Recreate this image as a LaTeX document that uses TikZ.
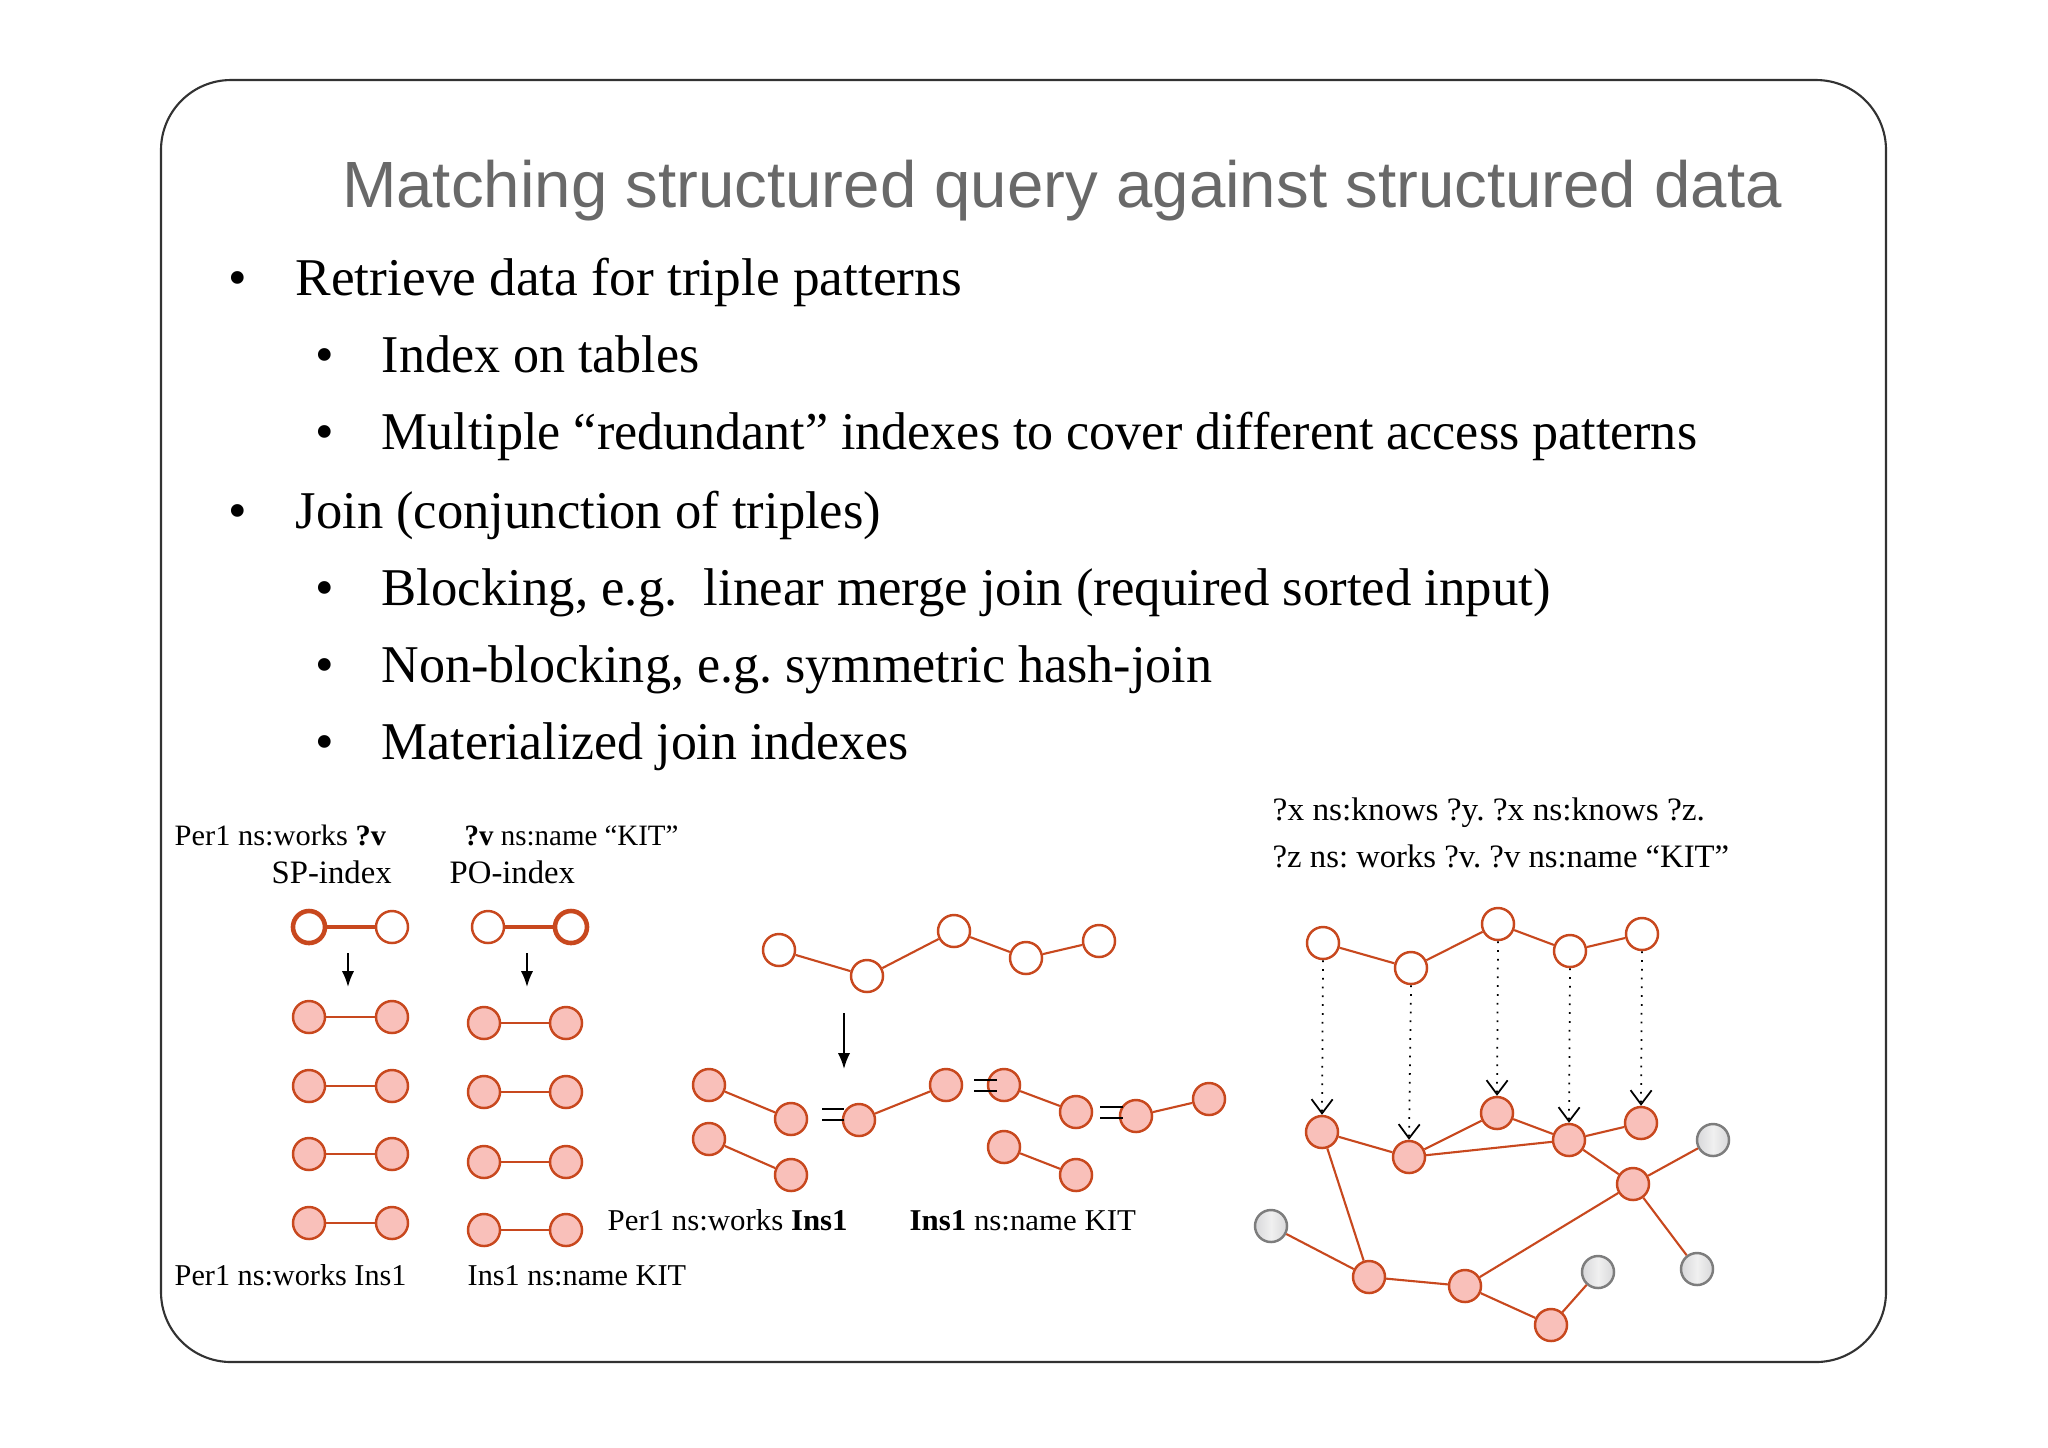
\documentclass[tikz,border=0pt]{standalone}
\usepackage{fontspec}
\setmainfont{Liberation Serif}
\newfontfamily\titlefont{Liberation Sans}
\usetikzlibrary{arrows.meta}
\definecolor{edgeor}{RGB}{200,72,30}
\definecolor{nodefill}{RGB}{249,192,186}
\definecolor{grayfill}{RGB}{216,216,218}
\definecolor{graylight}{RGB}{240,240,240}
\definecolor{grayedge}{RGB}{125,125,125}
\definecolor{titlegray}{RGB}{105,105,105}
\definecolor{framecol}{RGB}{50,50,50}
\frenchspacing
\newcommand{\xsc}[2]{\scalebox{#1}[1]{#2}}
\begin{document}
\begin{tikzpicture}[x=0.01cm,y=-0.01cm,
  vnode/.style={circle,draw=edgeor,line width=0.7pt,inner sep=0pt,minimum size=0.32cm},
  qnode/.style={vnode,fill=white},
  dnode/.style={vnode,fill=nodefill},
  gnode/.style={circle,draw=grayedge,left color=grayfill,right color=grayfill,middle color=graylight,line width=0.7pt,inner sep=0pt,minimum size=0.32cm},
  thicknode/.style={vnode,fill=white,line width=1.3pt},
  edge/.style={draw=edgeor,line width=0.6pt},
  thickedge/.style={draw=edgeor,line width=1.3pt},
  bodytext/.style={anchor=base west,inner sep=0pt,font=\fontsize{15.1}{18}\selectfont},
  bul/.style={anchor=base,inner sep=0pt,font=\fontsize{15.1}{18}\selectfont},
  smalltext/.style={anchor=base west,inner sep=0pt,font=\fontsize{9.3}{11}\selectfont},
  labeltext/.style={anchor=base west,inner sep=0pt,font=\fontsize{8.6}{10}\selectfont},
  tinytext/.style={anchor=base west,inner sep=0pt,font=\fontsize{8.4}{10}\selectfont},
  solidarrow/.style={-{Latex[length=4.5pt,width=3.5pt]},line width=0.6pt},
  matcharrow/.style={-{Straight Barb[length=4pt,width=6pt]},dotted,line width=0.5pt},
  eqline/.style={line width=0.6pt}
]
\useasboundingbox (0,0) rectangle (2048,1447);
\fill[white] (0,0) rectangle (2048,1447);
% frame
\draw[framecol,line width=0.6pt,rounded corners=0.7cm] (161,80) rectangle (1886,1362);

% title
\node[anchor=base,inner sep=0pt,text=titlegray,font=\titlefont\fontsize{18.6}{22}\selectfont] (title) at (1062,207) {Matching structured query against structured data};

% bullets
\node[bul] (b1) at (238,295) {•};
\node[bodytext] (t1) at (295,295) {\xsc{1.004}{Retrieve data for triple patterns}};
\node[bul] (b2) at (325,372) {•};
\node[bodytext] (t2) at (381,372) {\xsc{0.98}{Index on tables}};
\node[bul] (b3) at (325,449) {•};
\node[bodytext] (t3) at (381,449) {\xsc{0.98}{Multiple “redundant” indexes to cover different access patterns}};
\node[bul] (b4) at (238,528) {•};
\node[bodytext] (t4) at (295,528) {\xsc{0.99}{Join (conjunction of triples)}};
\node[bul] (b5) at (325,605) {•};
\node[bodytext] (t5) at (381,605) {\xsc{0.993}{Blocking, e.g.\ \ linear merge join (required sorted input)}};
\node[bul] (b6) at (325,682) {•};
\node[bodytext] (t6) at (381,682) {\xsc{0.981}{Non-blocking, e.g. symmetric hash-join}};
\node[bul] (b7) at (325,759) {•};
\node[bodytext] (t7) at (381,759) {\xsc{0.976}{Materialized join indexes}};

% left part labels
\node[tinytext] (l1) at (174,845) {\xsc{1.03}{Per1 ns:works \textbf{?v}}};
\node[tinytext] (l2) at (464,845) {\xsc{0.98}{\textbf{?v} ns:name “KIT”}};
\node[smalltext] (l3) at (271,883) {SP-index};
\node[smalltext] (l4) at (449,883) {PO-index};
\node[labeltext] (l5) at (174,1285) {Per1 ns:works Ins1};
\node[labeltext] (l6) at (467,1285) {Ins1 ns:name KIT};

% SP-index pattern
\node[thicknode] (spa) at (309,927) {};
\node[qnode] (spb) at (392,927) {};
\draw[thickedge] (spa) -- (spb);
\coordinate (spar1) at (348,953);
\coordinate (spar2) at (348,987);
\draw[solidarrow] (spar1) -- (spar2);
\foreach \i/\y in {1/1017,2/1086,3/1154,4/1223}{
  \node[dnode] (spl\i) at (309,\y) {};
  \node[dnode] (spr\i) at (392,\y) {};
  \draw[edge] (spl\i) -- (spr\i);
}
% PO-index pattern
\node[qnode] (poa) at (488,927) {};
\node[thicknode] (pob) at (571,927) {};
\draw[thickedge] (poa) -- (pob);
\coordinate (poar1) at (527,953);
\coordinate (poar2) at (527,987);
\draw[solidarrow] (poar1) -- (poar2);
\foreach \i/\y in {1/1023,2/1092,3/1162,4/1230}{
  \node[dnode] (pol\i) at (484,\y) {};
  \node[dnode] (por\i) at (566,\y) {};
  \draw[edge] (pol\i) -- (por\i);
}

% middle part
\node[qnode] (n1) at (779,950) {};
\node[qnode] (n2) at (867,976) {};
\node[qnode] (n3) at (954,931) {};
\node[qnode] (n4) at (1026,958) {};
\node[qnode] (n5) at (1099,941) {};
\draw[edge] (n1) -- (n2) -- (n3) -- (n4) -- (n5);
\coordinate (mar1) at (844,1013);
\coordinate (mar2) at (844,1069);
\draw[solidarrow] (mar1) -- (mar2);

\node[dnode] (a1) at (709,1085) {};
\node[dnode] (a2) at (791,1119) {};
\node[dnode] (a3) at (709,1139) {};
\node[dnode] (a4) at (791,1175) {};
\draw[edge] (a1) -- (a2);
\draw[edge] (a3) -- (a4);
\node[dnode] (m1) at (859,1120) {};
\node[dnode] (m2) at (946,1085) {};
\draw[edge] (m1) -- (m2);
\node[dnode] (c1) at (1004,1085) {};
\node[dnode] (c2) at (1076,1112) {};
\node[dnode] (c3) at (1004,1147) {};
\node[dnode] (c4) at (1076,1175) {};
\draw[edge] (c1) -- (c2);
\draw[edge] (c3) -- (c4);
\node[dnode] (d1) at (1136,1116) {};
\node[dnode] (d2) at (1209,1099) {};
\draw[edge] (d1) -- (d2);
% equal signs
\draw[eqline] (822,1109) -- (844,1109) (822,1120) -- (844,1120);
\draw[eqline] (974,1080) -- (997,1080) (974,1091) -- (997,1091);
\draw[eqline] (1100,1107) -- (1123,1107) (1100,1118) -- (1123,1118);

\node[labeltext] (l7) at (607,1230) {\xsc{1.02}{Per1 ns:works \textbf{Ins1}}};
\node[labeltext] (l8) at (909,1230) {\xsc{1.02}{\textbf{Ins1} ns:name KIT}};

% right part
\node[smalltext] (l9) at (1272,820) {\xsc{1.02}{?x ns:knows ?y. ?x ns:knows ?z.}};
\node[smalltext] (l10) at (1272,867) {?z ns: works ?v. ?v ns:name “KIT”};

\node[qnode] (q1) at (1323,943) {};
\node[qnode] (q2) at (1411,968) {};
\node[qnode] (q3) at (1498,924) {};
\node[qnode] (q4) at (1570,951) {};
\node[qnode] (q5) at (1642,934) {};
\draw[edge] (q1) -- (q2) -- (q3) -- (q4) -- (q5);

\node[dnode] (p1) at (1322,1132) {};
\node[dnode] (p2) at (1409,1157) {};
\node[dnode] (p3) at (1497,1113) {};
\node[dnode] (p4) at (1569,1140) {};
\node[dnode] (p5) at (1641,1123) {};
\node[dnode] (p6) at (1633,1184) {};
\node[dnode] (p7) at (1369,1277) {};
\node[dnode] (p8) at (1465,1286) {};
\node[dnode] (p9) at (1551,1325) {};
\node[gnode] (g1) at (1713,1140) {};
\node[gnode] (g2) at (1271,1226) {};
\node[gnode] (g3) at (1598,1272) {};
\node[gnode] (g4) at (1697,1269) {};

\draw[edge] (p1) -- (p2);
\draw[edge] (p2) -- (p3);
\draw[edge] (p2) -- (p4);
\draw[edge] (p3) -- (p4);
\draw[edge] (p4) -- (p5);
\draw[edge] (p4) -- (p6);
\draw[edge] (p6) -- (g1);
\draw[edge] (p6) -- (g4);
\draw[edge] (p6) -- (p8);
\draw[edge] (p1) -- (p7);
\draw[edge] (g2) -- (p7);
\draw[edge] (p7) -- (p8);
\draw[edge] (p8) -- (p9);
\draw[edge] (p9) -- (g3);

\foreach \i in {1,...,5}{
  \draw[matcharrow] (q\i.south) -- (p\i.north);
}
\end{tikzpicture}
\end{document}
